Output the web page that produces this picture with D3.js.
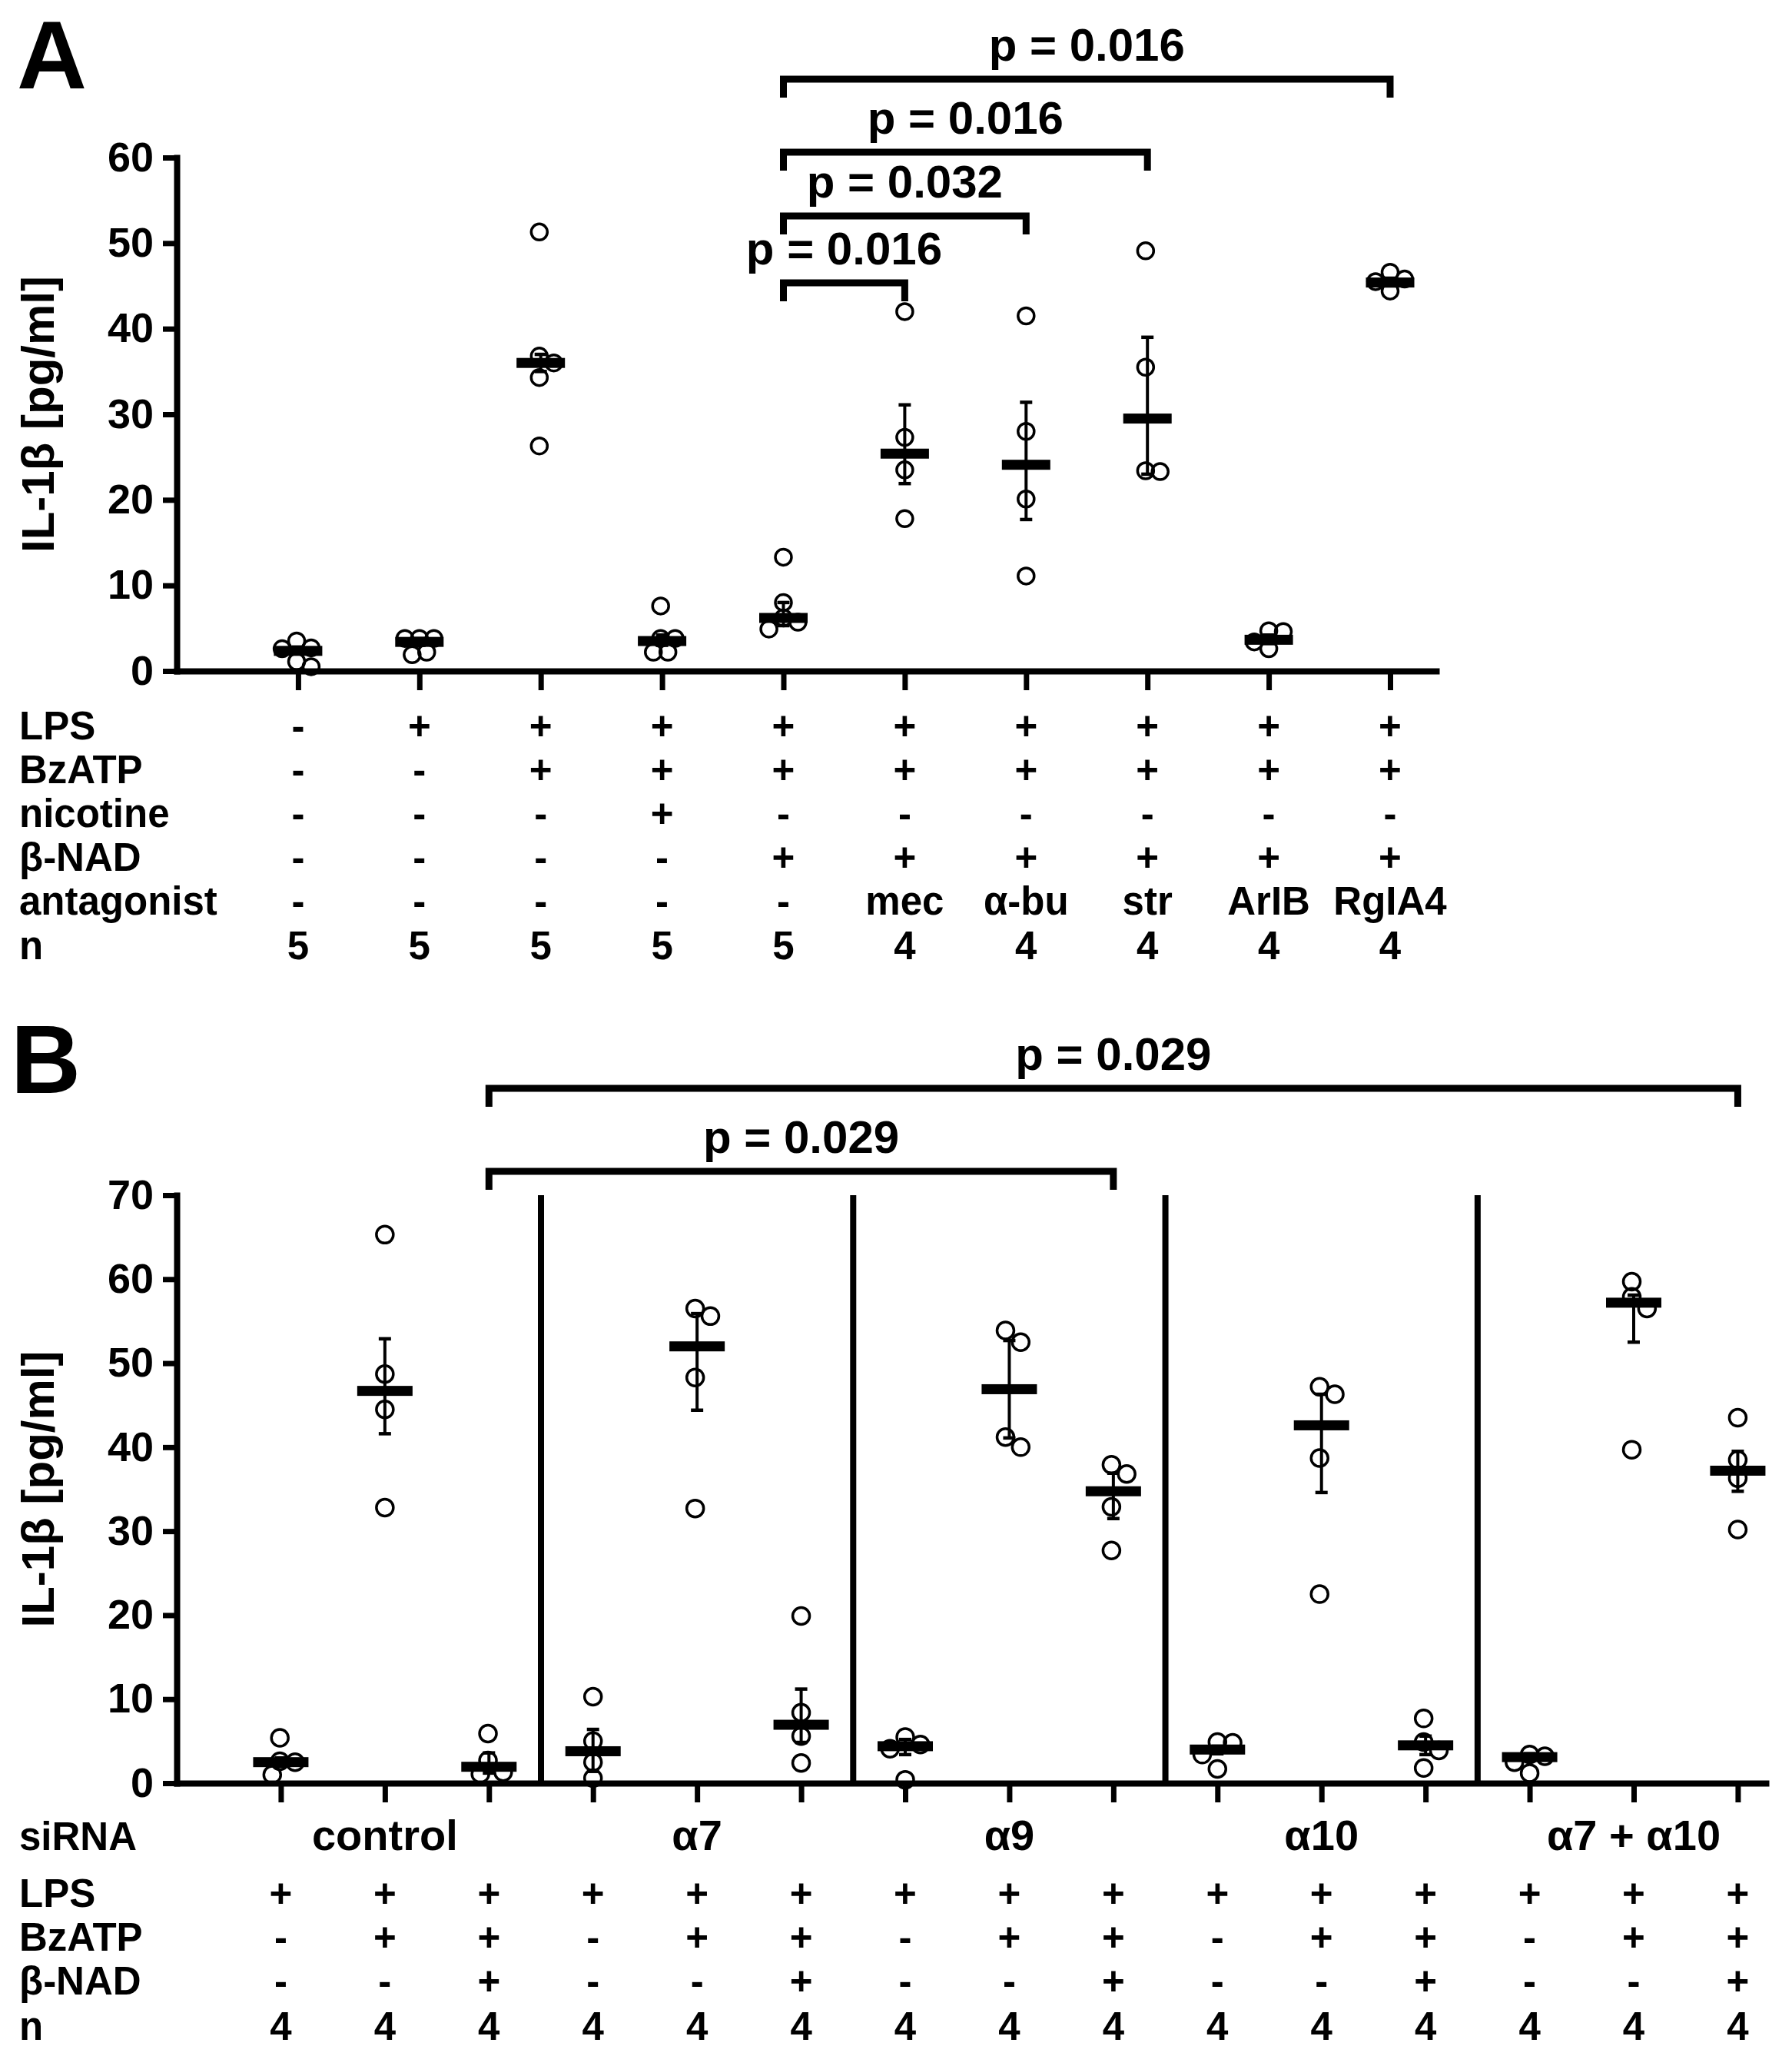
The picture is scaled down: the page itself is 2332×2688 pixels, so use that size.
<!DOCTYPE html>
<html>
<head>
<meta charset="utf-8">
<script src="https://cdn.jsdelivr.net/npm/d3@7"></script>
<style>
  body { margin: 0; background: #fff; }
  svg { display: block; }
</style>
</head>
<body>
<div id="chart"></div>
<script>
var width = 2332;
var height = 2688;
var font = "Arial, 'Liberation Sans', sans-serif";

// ---- panel A data ----
var aPoints = [
  [3.5, 2.7, 2.6, 1.1, 0.5],
  [3.8, 3.8, 3.8, 2.2, 1.9],
  [51.3, 36.8, 36.0, 34.3, 26.3],
  [7.6, 3.8, 3.8, 2.2, 2.2],
  [13.3, 8.0, 6.2, 5.7, 4.9],
  [42.0, 27.3, 23.5, 17.8],
  [41.5, 28.0, 20.1, 11.1],
  [49.1, 35.5, 23.4, 23.3],
  [4.7, 4.6, 3.4, 2.6],
  [46.6, 45.8, 45.5, 44.4]
];
var aCenter = [2.35, 3.4, 36.0, 3.5, 6.2, 25.4, 24.1, 29.5, 3.65, 45.4];
var aLow = [2.0, 3.0, 35.0, 3.0, 5.3, 21.9, 17.7, 23.0, 3.2, 45.0];
var aHigh = [2.8, 3.8, 37.0, 4.2, 8.0, 31.1, 31.4, 39.0, 4.2, 45.9];
var aYTicks = [0, 10, 20, 30, 40, 50, 60];

var aRowLabels = ['LPS', 'BzATP', 'nicotine', 'β-NAD', 'antagonist', 'n'];
var aLPS = ['-', '+', '+', '+', '+', '+', '+', '+', '+', '+'];
var aBzATP = ['-', '-', '+', '+', '+', '+', '+', '+', '+', '+'];
var aNicotine = ['-', '-', '-', '+', '-', '-', '-', '-', '-', '-'];
var aNAD = ['-', '-', '-', '-', '+', '+', '+', '+', '+', '+'];
var aAntagonist = ['-', '-', '-', '-', '-', 'mec', 'α-bu', 'str', 'ArIB', 'RgIA4'];
var aN = ['5', '5', '5', '5', '5', '4', '4', '4', '4', '4'];

var aCompareFrom = [5, 5, 5, 5];
var aCompareTo = [6, 7, 8, 10];
var aPLabels = ['p = 0.016', 'p = 0.032', 'p = 0.016', 'p = 0.016'];

// ---- panel B data ----
var bPoints = [
  [5.4, 2.6, 2.5, 1.0],
  [65.3, 48.7, 44.5, 32.8],
  [5.9, 2.7, 1.3, 1.1],
  [10.3, 5.0, 2.5, 0.6],
  [56.5, 55.6, 48.3, 32.7],
  [19.9, 8.4, 5.6, 2.4],
  [5.5, 4.6, 4.1, 0.4],
  [53.9, 52.5, 41.2, 40.0],
  [37.9, 36.8, 32.9, 27.7],
  [4.9, 4.8, 3.4, 1.7],
  [47.2, 46.3, 38.7, 22.5],
  [7.7, 4.9, 3.9, 1.8],
  [3.4, 3.2, 2.5, 1.2],
  [59.7, 57.9, 56.5, 39.7],
  [43.5, 38.5, 36.3, 30.2]
];
var bCenter = [2.5, 46.7, 1.95, 3.8, 52.0, 6.95, 4.4, 46.9, 34.75, 4.0, 42.6, 4.5, 3.1, 57.2, 37.2];
var bLow = [2.0, 41.6, 1.2, 1.4, 44.4, 4.85, 3.4, 41.1, 31.5, 3.5, 34.6, 3.4, 2.7, 52.5, 34.75];
var bHigh = [3.0, 52.9, 3.6, 6.4, 55.9, 11.2, 5.2, 52.7, 36.9, 4.4, 46.3, 5.6, 3.5, 58.1, 39.5];
var bYTicks = [0, 10, 20, 30, 40, 50, 60, 70];

var bSiRNA = ['control', 'α7', 'α9', 'α10', 'α7 + α10'];
var bRowLabels = ['LPS', 'BzATP', 'β-NAD', 'n'];
var bLPS = ['+', '+', '+', '+', '+', '+', '+', '+', '+', '+', '+', '+', '+', '+', '+'];
var bBzATP = ['-', '+', '+', '-', '+', '+', '-', '+', '+', '-', '+', '+', '-', '+', '+'];
var bNAD = ['-', '-', '+', '-', '-', '+', '-', '-', '+', '-', '-', '+', '-', '-', '+'];
var bN = ['4', '4', '4', '4', '4', '4', '4', '4', '4', '4', '4', '4', '4', '4', '4'];

var bCompareFrom = [3, 3];
var bCompareTo = [15, 9];
var bPLabels = ['p = 0.029', 'p = 0.029'];

var svg = d3.select('#chart')
  .append('svg')
  .attr('width', width)
  .attr('height', height)
  .style('font-family', font)
  .style('font-weight', 'bold');

svg.append('rect').attr('width', width).attr('height', height).attr('fill', '#fff');

// simple beeswarm: place points one by one, shift sideways until no overlap
function swarm(values, cx, y, r) {
  var placed = [];
  values.forEach(function(v) {
    var py = y(v);
    var off = 0;
    for (var k = 0; k < 20; k++) {
      off = (k === 0) ? 0 : (k % 2 ? 1 : -1) * Math.ceil(k / 2) * r * 0.9;
      var ok = placed.every(function(p) {
        var dx = cx + off - p.x, dy = py - p.y;
        return Math.sqrt(dx * dx + dy * dy) >= 1.75 * r;
      });
      if (ok) break;
    }
    placed.push({x: cx + off, y: py});
  });
  var mean = d3.mean(placed, function(p) { return p.x; }) - cx;
  if (placed.length > 1) placed.forEach(function(p) { p.x -= mean * 0.5; });
  return placed;
}

function drawPanel(cfg) {
  var g = svg.append('g');
  var x = d3.scaleLinear().domain([0, cfg.xMax]).range([cfg.left, cfg.right]);
  var y = d3.scaleLinear().domain([0, cfg.yMax]).range([cfg.bottom, cfg.top]);
  var n = cfg.points.length;
  var groups = d3.range(1, n + 1);

  // separators
  (cfg.separators || []).forEach(function(s) {
    g.append('line')
      .attr('x1', x(s)).attr('x2', x(s))
      .attr('y1', y(cfg.yMax)).attr('y2', y(0))
      .attr('stroke', '#000').attr('stroke-width', 8);
  });

  // axes
  var yAxis = g.append('g')
    .attr('transform', 'translate(' + cfg.left + ',0)')
    .call(d3.axisLeft(y).tickValues(cfg.yTicks).tickSizeInner(18).tickSizeOuter(0).tickPadding(12));
  var xAxis = g.append('g')
    .attr('transform', 'translate(0,' + cfg.bottom + ')')
    .call(d3.axisBottom(x).tickValues(groups).tickFormat('').tickSizeInner(25).tickSizeOuter(0));
  [yAxis, xAxis].forEach(function(ax) {
    ax.select('.domain').attr('stroke-width', 8).attr('stroke-linecap', 'square');
    ax.selectAll('.tick line').attr('stroke-width', 7);
  });
  yAxis.selectAll('.tick text')
    .attr('fill', '#000')
    .style('font-size', '54px')
    .style('font-family', font)
    .style('font-weight', 'bold');

  // y label
  g.append('text')
    .attr('transform', 'translate(70,' + ((cfg.top + cfg.bottom) / 2) + ') rotate(-90)')
    .attr('text-anchor', 'middle')
    .style('font-size', '60px')
    .text('IL-1β [pg/ml]');

  // points
  cfg.points.forEach(function(vals, i) {
    var pts = swarm(vals, x(i + 1), y, cfg.r);
    g.selectAll(null).data(pts).enter().append('circle')
      .attr('cx', function(d) { return d.x; })
      .attr('cy', function(d) { return d.y; })
      .attr('r', cfg.r)
      .attr('fill', 'none')
      .attr('stroke', '#000')
      .attr('stroke-width', 3.5);
  });

  // error bars
  var eb = g.selectAll('.eb').data(groups).enter().append('g');
  eb.append('line')
    .attr('x1', function(d) { return x(d); })
    .attr('x2', function(d) { return x(d); })
    .attr('y1', function(d) { return y(cfg.low[d - 1]); })
    .attr('y2', function(d) { return y(cfg.high[d - 1]); })
    .attr('stroke', '#000').attr('stroke-width', 4);
  ['low', 'high'].forEach(function(k) {
    eb.append('line')
      .attr('x1', function(d) { return x(d) - 8; })
      .attr('x2', function(d) { return x(d) + 8; })
      .attr('y1', function(d) { return y(cfg[k][d - 1]); })
      .attr('y2', function(d) { return y(cfg[k][d - 1]); })
      .attr('stroke', '#000').attr('stroke-width', 4.5);
  });

  // centre bars
  g.selectAll('.mean').data(groups).enter().append('rect')
    .attr('x', function(d) { return x(d) - cfg.barW / 2; })
    .attr('y', function(d) { return y(cfg.center[d - 1]) - 6.5; })
    .attr('width', cfg.barW)
    .attr('height', 13)
    .attr('fill', '#000');

  // brackets
  cfg.from.forEach(function(f, i) {
    var t = cfg.to[i];
    var by = cfg.bracketY[i];
    g.append('path')
      .attr('d', 'M' + x(f) + ',' + (by + 24) + 'V' + by + 'H' + x(t) + 'V' + (by + 24))
      .attr('fill', 'none')
      .attr('stroke', '#000')
      .attr('stroke-width', 9);
    g.append('text')
      .attr('x', (x(f) + x(t)) / 2)
      .attr('y', by - 24)
      .attr('text-anchor', 'middle')
      .style('font-size', '60px')
      .text(cfg.pLabels[i]);
  });

  // table below the axis
  cfg.rows.forEach(function(row, ri) {
    var ty = cfg.rowY[ri];
    g.append('text')
      .attr('x', 25).attr('y', ty)
      .style('font-size', '51px')
      .text(row.label);
    g.selectAll(null).data(row.values).enter().append('text')
      .attr('x', function(d, i) { return x(row.at ? row.at[i] : i + 1); })
      .attr('y', ty)
      .attr('text-anchor', 'middle')
      .style('font-size', row.big ? '56px' : '51px')
      .text(function(d) { return d; });
  });

  // panel letter
  svg.append('text')
    .attr('x', cfg.letterX).attr('y', cfg.letterY)
    .style('font-size', '126px')
    .text(cfg.letter);
}

drawPanel({
  letter: 'A', letterX: 22, letterY: 115,
  points: aPoints, center: aCenter, low: aLow, high: aHigh,
  left: 230, right: 1869, xMax: 10.38,
  top: 205, bottom: 873, yMax: 60, yTicks: aYTicks,
  r: 10.5, barW: 63,
  from: aCompareFrom, to: aCompareTo, pLabels: aPLabels,
  bracketY: [368, 281, 198, 103],
  rows: [
    {label: aRowLabels[0], values: aLPS},
    {label: aRowLabels[1], values: aBzATP},
    {label: aRowLabels[2], values: aNicotine},
    {label: aRowLabels[3], values: aNAD},
    {label: aRowLabels[4], values: aAntagonist},
    {label: aRowLabels[5], values: aN}
  ],
  rowY: [962, 1019, 1076, 1133, 1190, 1248]
});

drawPanel({
  letter: 'B', letterX: 14, letterY: 1422,
  points: bPoints, center: bCenter, low: bLow, high: bHigh,
  left: 230, right: 2298, xMax: 15.27,
  top: 1555, bottom: 2320, yMax: 70, yTicks: bYTicks,
  r: 11, barW: 72,
  separators: [3.5, 6.5, 9.5, 12.5],
  from: bCompareFrom, to: bCompareTo, pLabels: bPLabels,
  bracketY: [1416, 1524],
  rows: [
    {label: 'siRNA', values: bSiRNA, at: [2, 5, 8, 11, 14], big: true},
    {label: bRowLabels[0], values: bLPS},
    {label: bRowLabels[1], values: bBzATP},
    {label: bRowLabels[2], values: bNAD},
    {label: bRowLabels[3], values: bN}
  ],
  rowY: [2407, 2481, 2538, 2595, 2654]
});
</script>
</body>
</html>
